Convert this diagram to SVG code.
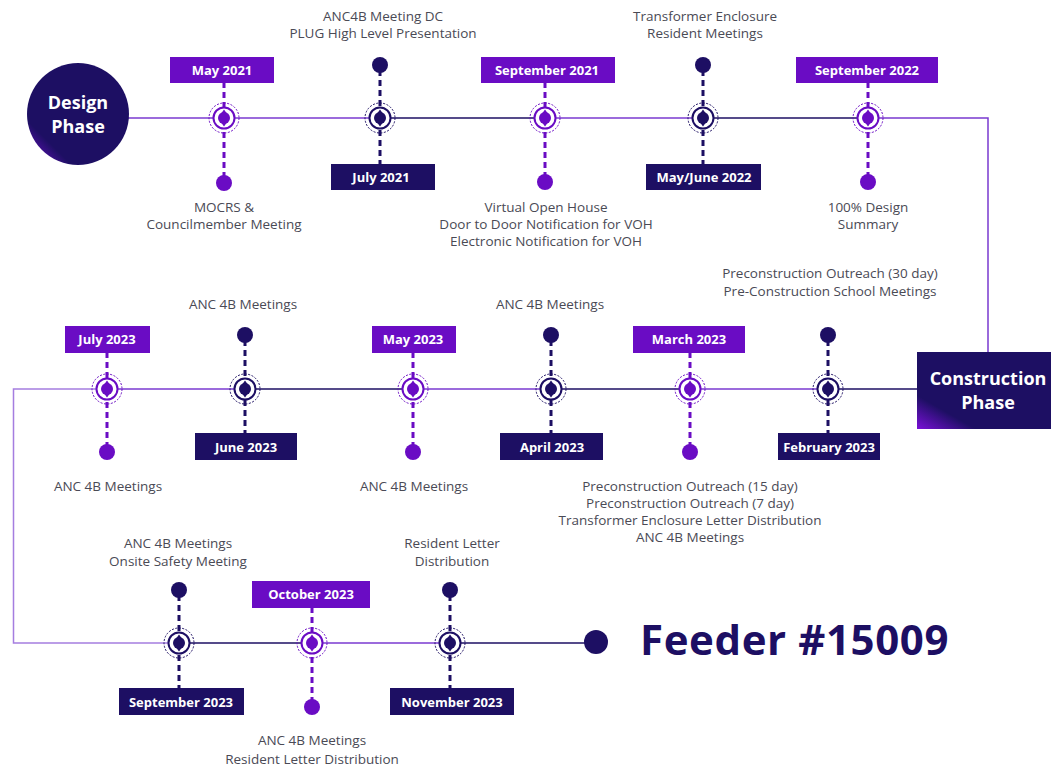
<svg xmlns="http://www.w3.org/2000/svg" xmlns:xlink="http://www.w3.org/1999/xlink" width="1051" height="768" viewBox="0 0 1051 768">
<style>
.lbl{font-family:"Open Sans","Noto Sans","Liberation Sans",sans-serif;font-weight:700;font-size:13px;fill:#ffffff;text-anchor:middle}
.txt{font-family:"Open Sans","Noto Sans","Liberation Sans",sans-serif;font-size:13.5px;fill:#4a4a55;text-anchor:middle}
.phase{font-family:"Open Sans","Noto Sans","Liberation Sans",sans-serif;font-weight:700;font-size:18px;fill:#ffffff;text-anchor:middle}
.bp{fill:#6a0cc4}
.bn{fill:#1d0f63}
.sp{stroke:#6a0cc4;stroke-width:3;stroke-dasharray:6 4;fill:none}
.sn{stroke:#1d0f63;stroke-width:3;stroke-dasharray:6 4;fill:none}
.lp{stroke:#7a3ad0;stroke-width:1.5;fill:none}
.ln{stroke:#1d0f63;stroke-width:1.5;fill:none}
.ll{stroke:#a57de0;stroke-width:1.5;fill:none}
</style>
<defs>
<symbol id="mk" overflow="visible">
<circle cx="0" cy="0" r="15" fill="none" stroke="currentColor" stroke-width="1" stroke-dasharray="2 1.5"/>
<circle cx="0" cy="0" r="10.5" fill="#fff" stroke="currentColor" stroke-width="2"/>
<path d="M0,-8.5 L2.5,-5 L-2.5,-5 Z M0,8.5 L2.5,5 L-2.5,5 Z" fill="currentColor"/>
<circle cx="0" cy="0" r="6" fill="currentColor"/>
</symbol>
<linearGradient id="gd" x1="0" y1="1" x2="1" y2="0">
<stop offset="0" stop-color="#7a10d8"/>
<stop offset="0.22" stop-color="#1d0f63"/>
<stop offset="1" stop-color="#1d0f63"/>
</linearGradient>
</defs>
<rect width="1051" height="768" fill="#ffffff"/>

<g id="connectors">
<line class="lp" x1="128" y1="118" x2="380" y2="118"/>
<line class="ln" x1="380" y1="118" x2="545" y2="118"/>
<line class="lp" x1="545" y1="118" x2="703" y2="118"/>
<line class="ln" x1="703" y1="118" x2="868" y2="118"/>
<polyline class="lp" points="868,118 988,118 988,352"/>
<line class="ln" x1="917" y1="389" x2="828" y2="389"/>
<line class="lp" x1="828" y1="389" x2="690" y2="389"/>
<line class="ln" x1="690" y1="389" x2="551" y2="389"/>
<line class="lp" x1="551" y1="389" x2="413" y2="389"/>
<line class="ln" x1="413" y1="389" x2="245" y2="389"/>
<line class="lp" x1="245" y1="389" x2="107" y2="389"/>
<polyline class="ll" points="107,389 13.5,389 13.5,643 179,643"/>
<line class="ln" x1="179" y1="643" x2="312" y2="643"/>
<line class="lp" x1="312" y1="643" x2="450" y2="643"/>
<line class="ln" x1="450" y1="643" x2="596" y2="643"/>
</g>

<g id="design-phase">
<circle cx="78" cy="114" r="51" fill="url(#gd)"/>
<text class="phase" x="78" y="109">Design</text>
<text class="phase" x="78" y="133">Phase</text>
</g>

<g id="construction-phase">
<rect x="917" y="352" width="134" height="77" fill="url(#gd)"/>
<text class="phase" x="988" y="385">Construction</text>
<text class="phase" x="988" y="409">Phase</text>
</g>

<g id="may-2021" color="#6a0cc4">
<line class="sp" x1="224" y1="82" x2="224" y2="178"/>
<rect class="bp" x="170" y="57" width="104" height="26"/>
<text class="lbl" x="222" y="75">May 2021</text>
<use xlink:href="#mk" x="224" y="118"/>
<circle class="bp" cx="224" cy="183" r="8"/>
<text class="txt" x="224" y="212">MOCRS &amp;</text>
<text class="txt" x="224" y="229">Councilmember Meeting</text>
</g>

<g id="july-2021" color="#1d0f63">
<line class="sn" x1="380" y1="70" x2="380" y2="165"/>
<circle class="bn" cx="380" cy="65" r="8"/>
<use xlink:href="#mk" x="380" y="118"/>
<rect class="bn" x="331" y="164" width="104" height="26"/>
<text class="lbl" x="381" y="182">July 2021</text>
<text class="txt" x="383" y="21">ANC4B Meeting DC</text>
<text class="txt" x="383" y="38">PLUG High Level Presentation</text>
</g>

<g id="september-2021" color="#6a0cc4">
<line class="sp" x1="545" y1="82" x2="545" y2="178"/>
<rect class="bp" x="481" y="57" width="134" height="26"/>
<text class="lbl" x="547" y="75">September 2021</text>
<use xlink:href="#mk" x="545" y="118"/>
<circle class="bp" cx="545" cy="182" r="8"/>
<text class="txt" x="546" y="212">Virtual Open House</text>
<text class="txt" x="546" y="229">Door to Door Notification for VOH</text>
<text class="txt" x="546" y="246">Electronic Notification for VOH</text>
</g>

<g id="may-june-2022" color="#1d0f63">
<line class="sn" x1="703" y1="70" x2="703" y2="165"/>
<circle class="bn" cx="703" cy="65" r="8"/>
<use xlink:href="#mk" x="703" y="118"/>
<rect class="bn" x="646" y="164" width="115" height="26"/>
<text class="lbl" x="704" y="182">May/June 2022</text>
<text class="txt" x="705" y="21">Transformer Enclosure</text>
<text class="txt" x="705" y="38">Resident Meetings</text>
</g>

<g id="september-2022" color="#6a0cc4">
<line class="sp" x1="868" y1="82" x2="868" y2="178"/>
<rect class="bp" x="796" y="57" width="142" height="26"/>
<text class="lbl" x="867" y="75">September 2022</text>
<use xlink:href="#mk" x="868" y="118"/>
<circle class="bp" cx="868" cy="182" r="8"/>
<text class="txt" x="868" y="212">100% Design</text>
<text class="txt" x="868" y="229">Summary</text>
</g>

<g id="february-2023" color="#1d0f63">
<line class="sn" x1="828" y1="340" x2="828" y2="434"/>
<circle class="bn" cx="828" cy="335" r="8"/>
<use xlink:href="#mk" x="828" y="389"/>
<rect class="bn" x="778" y="433" width="102" height="27"/>
<text class="lbl" x="829" y="452">February 2023</text>
<text class="txt" x="830" y="278">Preconstruction Outreach (30 day)</text>
<text class="txt" x="830" y="296">Pre-Construction School Meetings</text>
</g>

<g id="march-2023" color="#6a0cc4">
<line class="sp" x1="690" y1="352" x2="690" y2="448"/>
<rect class="bp" x="633" y="326" width="112" height="27"/>
<text class="lbl" x="689" y="344">March 2023</text>
<use xlink:href="#mk" x="690" y="389"/>
<circle class="bp" cx="690" cy="452" r="8"/>
<text class="txt" x="690" y="491">Preconstruction  Outreach (15 day)</text>
<text class="txt" x="690" y="508">Preconstruction Outreach (7 day)</text>
<text class="txt" x="690" y="525">Transformer Enclosure Letter Distribution</text>
<text class="txt" x="690" y="542">ANC 4B Meetings</text>
</g>

<g id="april-2023" color="#1d0f63">
<line class="sn" x1="551" y1="340" x2="551" y2="434"/>
<circle class="bn" cx="551" cy="335" r="8"/>
<use xlink:href="#mk" x="551" y="389"/>
<rect class="bn" x="500" y="433" width="103" height="27"/>
<text class="lbl" x="552" y="452">April 2023</text>
<text class="txt" x="550" y="309">ANC 4B Meetings</text>
</g>

<g id="may-2023" color="#6a0cc4">
<line class="sp" x1="413" y1="352" x2="413" y2="448"/>
<rect class="bp" x="372" y="326" width="84" height="27"/>
<text class="lbl" x="413" y="344">May 2023</text>
<use xlink:href="#mk" x="413" y="389"/>
<circle class="bp" cx="413" cy="452" r="8"/>
<text class="txt" x="414" y="491">ANC 4B Meetings</text>
</g>

<g id="june-2023" color="#1d0f63">
<line class="sn" x1="245" y1="340" x2="245" y2="434"/>
<circle class="bn" cx="245" cy="335" r="8"/>
<use xlink:href="#mk" x="245" y="389"/>
<rect class="bn" x="195" y="433" width="102" height="27"/>
<text class="lbl" x="246" y="452">June 2023</text>
<text class="txt" x="243" y="309">ANC 4B Meetings</text>
</g>

<g id="july-2023" color="#6a0cc4">
<line class="sp" x1="107" y1="352" x2="107" y2="448"/>
<rect class="bp" x="65" y="326" width="85" height="27"/>
<text class="lbl" x="107" y="344">July 2023</text>
<use xlink:href="#mk" x="107" y="389"/>
<circle class="bp" cx="107" cy="452" r="8"/>
<text class="txt" x="108" y="491">ANC 4B Meetings</text>
</g>

<g id="september-2023" color="#1d0f63">
<line class="sn" x1="179" y1="595" x2="179" y2="689"/>
<circle class="bn" cx="179" cy="590" r="8"/>
<use xlink:href="#mk" x="179" y="643"/>
<rect class="bn" x="119" y="688" width="125" height="27"/>
<text class="lbl" x="181" y="707">September 2023</text>
<text class="txt" x="178" y="548">ANC 4B Meetings</text>
<text class="txt" x="178" y="566">Onsite Safety Meeting</text>
</g>

<g id="october-2023" color="#6a0cc4">
<line class="sp" x1="312" y1="607" x2="312" y2="703"/>
<rect class="bp" x="252" y="581" width="118" height="27"/>
<text class="lbl" x="311" y="599">October 2023</text>
<use xlink:href="#mk" x="312" y="643"/>
<circle class="bp" cx="312" cy="707" r="8"/>
<text class="txt" x="312" y="745">ANC 4B Meetings</text>
<text class="txt" x="312" y="764">Resident Letter Distribution</text>
</g>

<g id="november-2023" color="#1d0f63">
<line class="sn" x1="450" y1="595" x2="450" y2="689"/>
<circle class="bn" cx="450" cy="590" r="8"/>
<use xlink:href="#mk" x="450" y="643"/>
<rect class="bn" x="390" y="688" width="124" height="27"/>
<text class="lbl" x="452" y="707">November 2023</text>
<text class="txt" x="452" y="548">Resident Letter</text>
<text class="txt" x="452" y="566">Distribution</text>
</g>

<g id="feeder">
<circle class="bn" cx="596" cy="642" r="12"/>
<text x="640" y="655" font-family="'Open Sans','Noto Sans','Liberation Sans',sans-serif" font-weight="700" font-size="42" letter-spacing="0.6" fill="#1d0f63">Feeder #15009</text>
</g>
</svg>
